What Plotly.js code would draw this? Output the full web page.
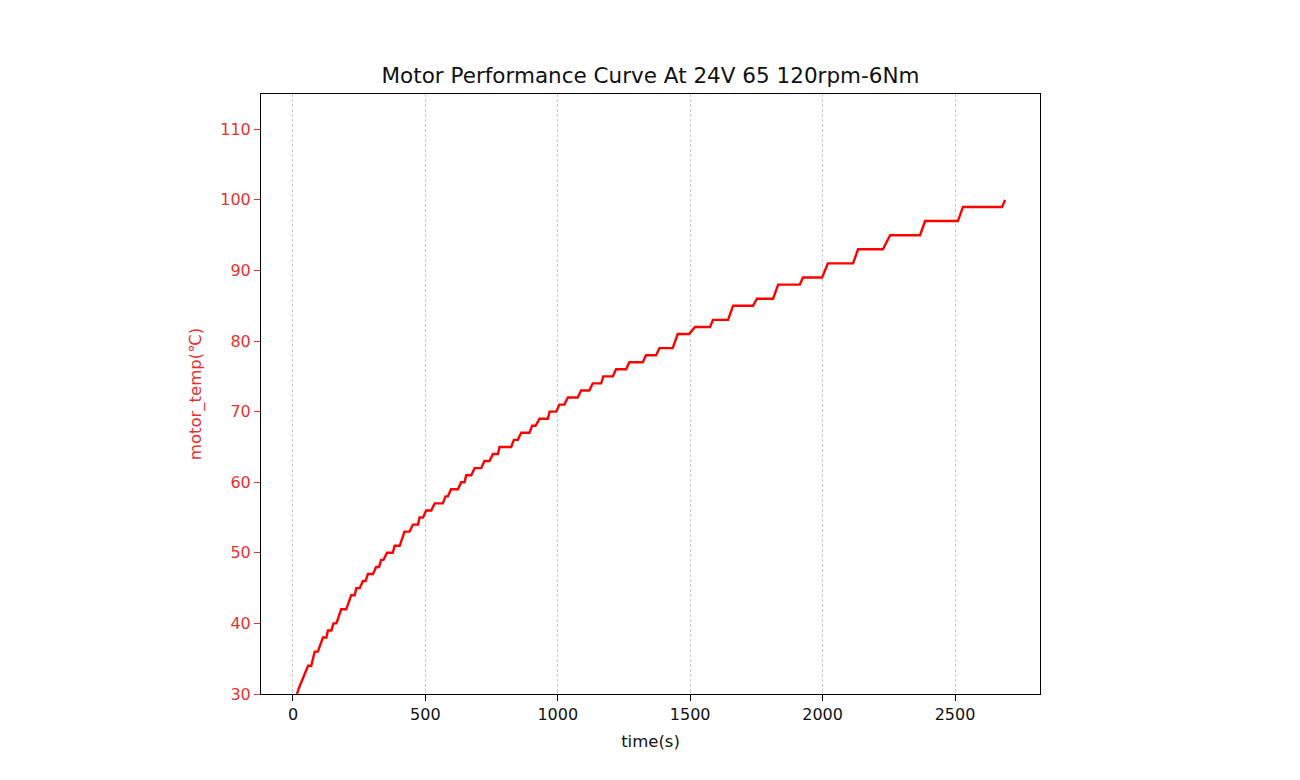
<!DOCTYPE html>
<html>
<head>
<meta charset="utf-8">
<script src="https://cdn.plot.ly/plotly-3.0.1.min.js"></script>
<style>
  html, body { margin: 0; padding: 0; background: #ffffff; }
  #chart { width: 1300px; height: 780px; }
</style>
</head>
<body>
<div id="chart"></div>
<script>
// Temperature levels (°C) held by the motor, with the time (s) each level begins and ends
const levels = [30, 31, 32, 33, 34, 36, 38, 39, 40, 42, 44, 45, 46, 47, 48, 49,
  50, 51, 53, 54, 55, 56, 57, 58, 59, 60, 61, 62, 63, 64, 65, 66, 67, 68, 69,
  70, 71, 72, 73, 74, 75, 76, 77, 78, 79, 81, 82, 83, 85, 86, 88, 89, 91, 93, 95, 97, 99, 100];
const levelStart = [13, 24, 34, 45, 57, 82, 113, 132, 153, 182, 220, 239, 264, 283, 314, 333,
  355, 384, 421, 453, 478, 503, 535, 576, 597, 635, 654, 686, 723, 755, 780, 834, 862, 903, 931,
  969, 1006, 1038, 1088, 1132, 1172, 1220, 1270, 1333, 1384, 1453, 1518, 1586, 1662, 1752, 1832, 1926, 2020, 2134, 2255, 2387, 2530, 2689];
const levelEnd = [15, 24, 34, 45, 69, 94, 126, 145, 164, 201, 233, 252, 274, 302, 325, 342,
  377, 403, 440, 472, 491, 522, 566, 585, 623, 648, 673, 711, 742, 774, 824, 849, 893, 916, 962,
  994, 1025, 1075, 1119, 1164, 1208, 1258, 1321, 1371, 1434, 1496, 1575, 1643, 1737, 1813, 1914, 1998, 2115, 2228, 2368, 2511, 2678, 2689];

const xTicks = [0, 500, 1000, 1500, 2000, 2500];
const yTicks = [30, 40, 50, 60, 70, 80, 90, 100, 110];

const chartTitle = 'Motor Performance Curve At 24V 65 120rpm-6Nm';
const xLabel = 'time(s)';
const yLabel = 'motor_temp(℃)';

// build the sampled series from the levels
const time = [];
const temp = [];
levels.forEach((lv, i) => {
  time.push(levelStart[i]); temp.push(lv);
  if (levelEnd[i] !== levelStart[i]) { time.push(levelEnd[i]); temp.push(lv); }
});

const FONT = 'DejaVu Sans, Liberation Sans, sans-serif';
const RED = '#ff0000';
const LABEL_RED = '#e8322f';

const trace = {
  x: time, y: temp, type: 'scatter', mode: 'lines',
  line: { color: RED, width: 2.4 },
  hoverinfo: 'x+y', showlegend: false
};

const layout = {
  width: 1300, height: 780,
  paper_bgcolor: '#ffffff', plot_bgcolor: '#ffffff',
  margin: { l: 261, r: 260, t: 94, b: 86, pad: 0 },
  font: { family: FONT, size: 16, color: '#000000' },
  title: {
    text: chartTitle,
    font: { family: FONT, size: 21.5, color: '#111111' },
    x: 0.5, xanchor: 'center', xref: 'paper',
    y: 1, yref: 'paper', yanchor: 'bottom', pad: { b: 11 }
  },
  xaxis: {
    range: [-120.8, 2821],
    tickmode: 'array', tickvals: xTicks, ticktext: xTicks.map(String),
    ticks: 'outside', ticklen: 6, tickwidth: 1, tickcolor: '#000000',
    tickfont: { family: FONT, size: 16, color: '#111111' },
    showline: true, linecolor: '#000000', linewidth: 1, mirror: true,
    showgrid: true, gridcolor: '#bdbdbd', gridwidth: 0.8, griddash: '3px,2px',
    zeroline: false,
    title: { text: xLabel, font: { family: FONT, size: 16.5, color: '#111111' }, standoff: 12 }
  },
  yaxis: {
    range: [30, 115],
    tickmode: 'array', tickvals: yTicks, ticktext: yTicks.map(String),
    ticks: 'outside', ticklen: 6, tickwidth: 1, tickcolor: LABEL_RED,
    tickfont: { family: FONT, size: 16, color: LABEL_RED },
    showline: true, linecolor: '#000000', linewidth: 1, mirror: true,
    showgrid: false, zeroline: false,
    title: { text: yLabel, font: { family: FONT, size: 16.5, color: LABEL_RED }, standoff: 14 }
  }
};

Plotly.newPlot('chart', [trace], layout, { displayModeBar: false, staticPlot: true });
</script>
</body>
</html>
